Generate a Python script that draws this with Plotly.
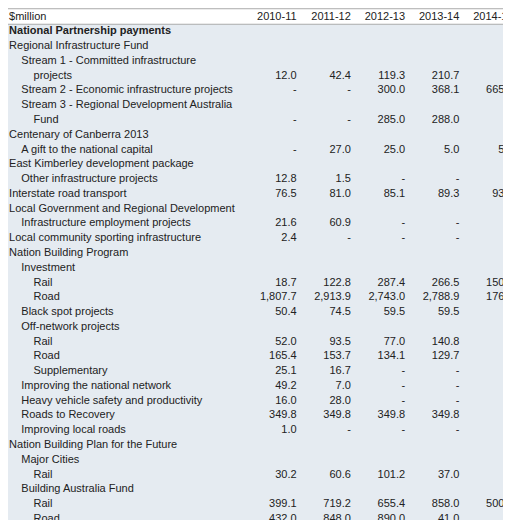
import plotly.graph_objects as go

S = "\u00a0"
labels = [
    "<b>National Partnership payments</b>",
    "Regional Infrastructure Fund",
    S*4 + "Stream 1 - Committed infrastructure",
    S*8 + "projects",
    S*4 + "Stream 2 - Economic infrastructure projects",
    S*4 + "Stream 3 - Regional Development Australia",
    S*8 + "Fund",
    "Centenary of Canberra 2013",
    S*4 + "A gift to the national capital",
    "East Kimberley development package",
    S*4 + "Other infrastructure projects",
    "Interstate road transport",
    "Local Government and Regional Development",
    S*4 + "Infrastructure employment projects",
    "Local community sporting infrastructure",
    "Nation Building Program",
    S*4 + "Investment",
    S*8 + "Rail",
    S*8 + "Road",
    S*4 + "Black spot projects",
    S*4 + "Off-network projects",
    S*8 + "Rail",
    S*8 + "Road",
    S*8 + "Supplementary",
    S*4 + "Improving the national network",
    S*4 + "Heavy vehicle safety and productivity",
    S*4 + "Roads to Recovery",
    S*4 + "Improving local roads",
    "Nation Building Plan for the Future",
    S*4 + "Major Cities",
    S*8 + "Rail",
    S*4 + "Building Australia Fund",
    S*8 + "Rail",
    S*8 + "Road",
]

years = ["2010-11", "2011-12", "2012-13", "2013-14", "2014-15"]

y2010 = ["", "", "", "12.0", "-", "", "-", "", "-", "", "12.8", "76.5", "", "21.6", "2.4",
         "", "", "18.7", "1,807.7", "50.4", "", "52.0", "165.4", "25.1", "49.2", "16.0",
         "349.8", "1.0", "", "", "30.2", "", "399.1", "432.0"]
y2011 = ["", "", "", "42.4", "-", "", "-", "", "27.0", "", "1.5", "81.0", "", "60.9", "-",
         "", "", "122.8", "2,913.9", "74.5", "", "93.5", "153.7", "16.7", "7.0", "28.0",
         "349.8", "-", "", "", "60.6", "", "719.2", "848.0"]
y2012 = ["", "", "", "119.3", "300.0", "", "285.0", "", "25.0", "", "-", "85.1", "", "-", "-",
         "", "", "287.4", "2,743.0", "59.5", "", "77.0", "134.1", "-", "-", "-",
         "349.8", "-", "", "", "101.2", "", "655.4", "890.0"]
y2013 = ["", "", "", "210.7", "368.1", "", "288.0", "", "5.0", "", "-", "89.3", "", "-", "-",
         "", "", "266.5", "2,788.9", "59.5", "", "140.8", "129.7", "-", "-", "-",
         "349.8", "-", "", "", "37.0", "", "858.0", "41.0"]
y2014 = ["", "", "", "-", "665.5", "", "-", "", "5.0", "", "-", "93.8", "", "-", "-",
         "", "", "150.0", "176.3", "-", "", "-", "-", "-", "-", "-",
         "-", "-", "", "", "-", "", "500.0", "-"]

rows = list(range(len(labels)))
font = dict(family="Arial", size=11, color="#222222")
label_w = 4.3  # label column width in year-column units

fig = go.Figure()
fig.add_trace(go.Scatter(x=[0] * len(rows), y=rows, text=labels, mode="text",
                         textposition="middle right", textfont=font))
fig.add_trace(go.Scatter(x=[0], y=[-1], text=["$million"], mode="text",
                         textposition="middle right", textfont=font))
for i, (yr, vals) in enumerate(zip(years, [y2010, y2011, y2012, y2013, y2014])):
    xc = label_w + i + 1
    fig.add_trace(go.Scatter(x=[xc] * (len(rows) + 1), y=[-1] + rows, text=[yr] + vals,
                             mode="text", textposition="middle left", textfont=font))

fig.update_layout(
    width=511, height=520, margin=dict(l=0, r=0, t=0, b=0),
    paper_bgcolor="white", plot_bgcolor="white", showlegend=False,
    xaxis=dict(range=[-0.02, label_w + 5.1], visible=False, fixedrange=True),
    yaxis=dict(range=[len(rows) - 0.4, -1.6], visible=False, fixedrange=True),
    shapes=[
        dict(type="rect", xref="paper", yref="y", x0=0, x1=1, y0=-0.5, y1=len(rows) - 0.4,
             fillcolor="#e5ebf1", line_width=0, layer="below"),
        dict(type="line", xref="paper", yref="y", x0=0, x1=1, y0=-0.5, y1=-0.5,
             line=dict(color="#aaaaaa", width=1)),
        dict(type="line", xref="paper", yref="y", x0=0, x1=1, y0=-1.55, y1=-1.55,
             line=dict(color="#aaaaaa", width=1)),
    ],
)
fig.write_html("out.html")
